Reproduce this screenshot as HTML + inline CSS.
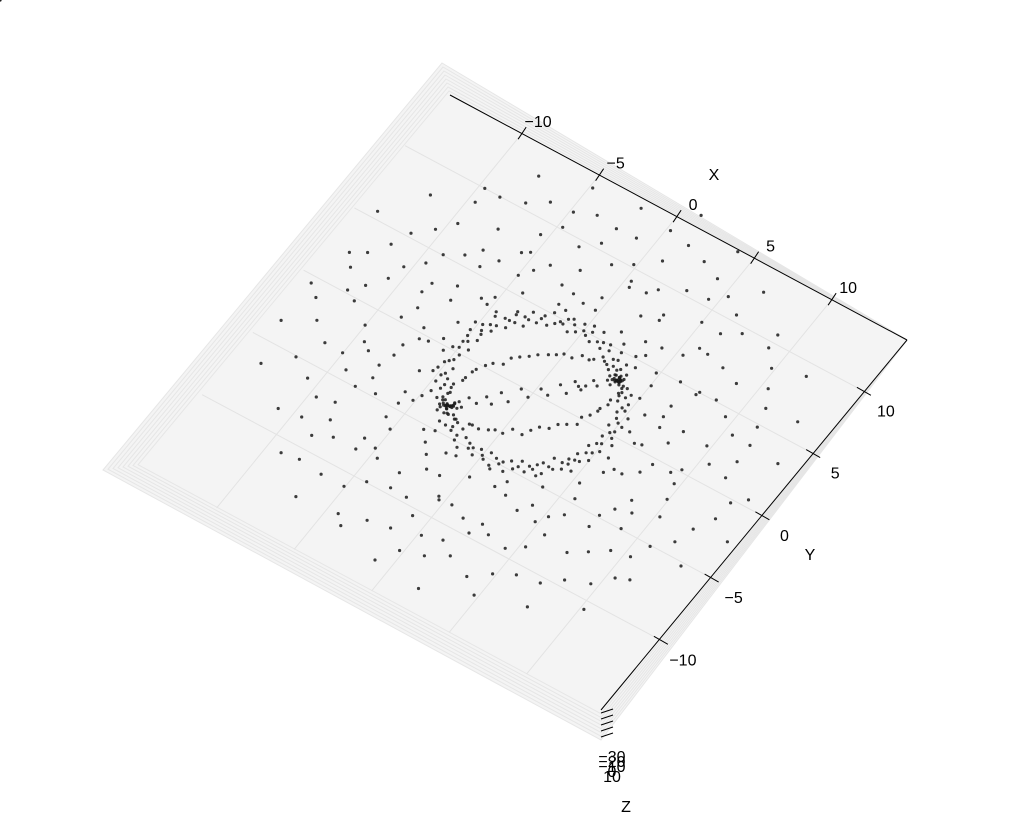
<!DOCTYPE html>
<html><head><meta charset="utf-8">
<style>
html,body{margin:0;padding:0;background:#fff;}
svg{display:block;font-family:"Liberation Sans",sans-serif;}
</style></head>
<body>
<svg id="chart" width="1025" height="826" viewBox="0 0 1025 826">
<g id="panes"></g>
<g id="grid"></g>
<g id="points"></g>
<g id="axes"></g>
</svg>
<script>
// ---- data ----
// inner "sphere" points: parameter angle (deg), meridian squash (x100), radius (x10)
const sphT = [
0,3,5,8,10,12,15,17,19,22,24,27,29,31,34,36,38,41,43,46,48,50,53,55,58,60,62,65,67,70,
72,74,77,79,82,84,86,89,91,94,96,98,101,103,106,108,110,113,115,118,120,122,125,127,130,132,134,137,139,142,
144,146,149,151,154,156,158,161,163,166,168,170,173,175,178,180,182,185,187,190,192,194,197,199,202,204,206,209,211,214,
216,218,221,223,226,228,230,233,235,238,240,242,245,247,250,252,254,257,259,262,264,266,269,271,274,276,278,281,283,286,
288,290,293,295,298,300,302,305,307,310,312,314,317,319,322,324,326,329,331,334,336,338,341,343,346,348,350,353,355,358,
7,25,44,63,88,112,131,152,171,196,217,236,261,280,301,322,345,14,57,99,
4,9,15,21,27,33,39,45,51,57,63,69,75,81,87,93,99,105,111,117,123,129,135,141,147,153,159,165,171,177,
185,191,197,203,209,215,221,227,233,239,245,251,257,263,269,275,281,287,293,299,305,311,317,323,329,335,341,347,353,359,
6,18,31,44,58,71,84,97,110,123,136,149,162,175,188,201,214,227,240,253,266,279,292,305,318,331,344,357,24,203,
2,358,5,355,1,357,3,356,0,4,178,182,176,185,180,179,183,177,181,184,
1,359,2,357,178,181,176,183,6,174];
const sphB = [
100,100,100,100,100,100,100,100,100,100,100,100,100,100,100,100,100,100,100,100,100,100,100,100,100,100,100,100,100,100,
100,100,100,100,100,100,100,100,100,100,100,100,100,100,100,100,100,100,100,100,100,100,100,100,100,100,100,100,100,100,
100,100,100,100,100,100,100,100,100,100,100,100,100,100,100,100,100,100,100,100,100,100,100,100,100,100,100,100,100,100,
100,100,100,100,100,100,100,100,100,100,100,100,100,100,100,100,100,100,100,100,100,100,100,100,100,100,100,100,100,100,
100,100,100,100,100,100,100,100,100,100,100,100,100,100,100,100,100,100,100,100,100,100,100,100,100,100,100,100,100,100,
95,92,96,94,93,97,95,91,96,94,92,95,97,93,94,96,92,95,93,96,
52,50,54,49,53,51,55,48,52,50,54,51,49,53,50,52,55,48,51,53,50,54,49,52,51,53,50,48,54,52,
51,53,49,52,50,54,48,51,53,50,52,49,55,51,50,53,48,52,54,50,51,49,53,52,50,48,54,51,52,50,
6,8,5,7,9,6,4,8,7,5,9,6,8,5,7,6,9,4,8,7,5,6,8,7,5,9,6,7,20,15,
30,40,60,20,50,35,70,25,45,55,30,40,60,20,50,35,70,25,45,55,
10,20,15,25,30,12,18,22,28,35];
const sphR = [
48,52,46,50,54,47,51,49,55,45,50,53,47,51,49,56,46,52,48,50,54,47,51,45,53,49,50,48,55,46,
52,50,47,54,49,51,45,53,48,50,52,46,55,49,51,47,53,50,48,54,46,52,49,51,45,50,53,47,56,48,
50,52,46,54,49,51,47,53,48,50,55,46,52,49,51,47,53,50,48,54,46,52,49,51,45,50,53,47,55,48,
51,49,53,47,50,52,46,54,48,51,49,55,47,52,50,46,53,49,51,48,54,47,50,52,45,53,49,51,48,50,
52,47,54,49,51,46,53,48,50,55,47,52,49,51,46,53,50,48,54,47,51,49,52,46,50,53,48,51,49,47,
58,60,57,61,59,58,62,57,60,59,61,58,57,60,62,59,58,61,57,60,
48,47,49,46,48,50,47,48,49,46,47,48,50,47,49,48,46,47,49,48,50,47,48,46,49,48,47,50,48,47,
48,49,47,48,50,46,48,49,47,48,50,47,49,48,46,47,49,48,50,47,48,49,46,48,47,50,48,49,47,48,
47,46,48,47,45,48,46,47,49,46,48,47,45,48,46,47,48,46,47,49,46,48,47,45,47,48,30,25,
47,46,48,45,49,47,46,48,45,47,46,48,47,45,49,46,48,47,45,49,
44,48,50,46,45,49,47,51,43,46];
// outer scatter points: radius (x10), angle (deg)
const outR = [
68,72,75,80,85,70,78,88,66,74,82,90,69,76,84,71,79,87,73,81,67,77,86,92,70,75,83,89,65,78,
80,72,88,68,76,84,91,74,70,86,79,67,82,90,73,77,85,69,81,93,71,75,87,66,79,83,74,89,72,80,
95,100,105,110,98,103,108,113,96,101,106,111,99,104,109,114,97,102,107,112,95,100,105,110,98,103,108,113,96,101,
106,111,99,104,109,114,97,102,107,112,94,99,104,109,115,101,106,96,111,103,108,98,113,100,105,95,110,102,107,97,
118,122,126,130,120,124,128,132,119,123,127,131,121,125,129,133,117,122,126,134,120,124,128,118,123,127,131,121,125,129,
119,123,127,131,122,126,130,118,124,128,132,120,125,129,121,126,130,117,123,127,133,119,124,128,122,126,131,120,125,129,
136,140,144,148,138,142,146,150,137,141,145,139,143,147,136,140,144,148,138,142,146,137,141,145,139,143,147,135,140,144,
62,64,66,63,65,61,67,64,62,66,63,65,64,62,66,61,63,65,67,64,
85,90,95,88,92,86,94,89,91,87,93,85,96,90,88,92,86,94,89,91];
const outA = [
3,15,27,39,51,63,75,87,99,111,123,135,147,159,171,183,195,207,219,231,243,255,267,279,291,303,315,327,339,351,
9,21,33,45,57,69,81,93,105,117,129,141,153,165,177,189,201,213,225,237,249,261,273,285,297,309,321,333,345,357,
1,13,25,37,49,61,73,85,97,109,121,133,145,157,169,181,193,205,217,229,241,253,265,277,289,301,313,325,337,349,
7,19,31,43,55,67,79,91,103,115,127,139,151,163,175,187,199,211,223,235,247,259,271,283,295,307,319,331,343,355,
5,17,29,41,53,65,77,89,101,113,125,137,149,161,173,185,197,209,221,233,245,257,269,281,293,305,317,329,341,353,
11,23,35,47,59,71,83,95,107,119,131,143,155,167,179,191,203,215,227,239,251,263,275,287,299,311,323,335,347,359,
2,14,26,38,50,62,74,86,98,110,122,134,146,158,170,182,194,206,218,230,242,254,266,278,290,302,314,326,338,350,
20,38,56,74,92,110,128,146,164,182,200,218,236,254,272,290,308,326,344,2,
16,34,52,70,88,106,124,142,160,178,196,214,232,250,268,286,304,322,340,358];
const xTicks = [-10,-5,0,5,10];
const yTicks = [-10,-5,0,5,10];
const zTickLabels = ["\u221230","\u221220","\u221210","0","10"];

// ---- projection (axis functions) ----
const O = [533, 393];
const ex = [15.5, 8.3], ey = [10.15, -12.45];
const xmin=-14.8, xmax=14.8, ymin=-15.9, ymax=14.2;
const majorDeg = 44;
function px(x,y){ return O[0] + x*ex[0] + y*ey[0]; }
function py(x,y){ return O[1] + x*ex[1] + y*ey[1]; }
const NS="http://www.w3.org/2000/svg";
function mk(tag, attrs, parent){ const e=document.createElementNS(NS,tag); for(const k in attrs) e.setAttribute(k,attrs[k]); parent.appendChild(e); return e; }

// panes (stacked walls)
const panes=document.getElementById('panes');
const T=[450,95], R=[907,340], B=[601,710], L=[143,464];
const Tsh=[-8,-32], Lsh=[-40,6], Bsh=[0,30];
for(let k=8;k>=0;k--){
  const f=k/8;
  const t=[T[0]+Tsh[0]*f,T[1]+Tsh[1]*f], l=[L[0]+Lsh[0]*f,L[1]+Lsh[1]*f], b=[B[0]+Bsh[0]*f,B[1]+Bsh[1]*f];
  const p=mk('polygon',{points:`${t} ${R} ${b} ${l}`,fill:'#f4f4f4',stroke:k===0?'#f4f4f4':'#e6e6e6','stroke-width':1},panes);
  
  
}
// grid
const grid=document.getElementById('grid');
xTicks.forEach(v=>{
  const l=mk('line',{x1:px(v,ymin),y1:py(v,ymin),x2:px(v,ymax),y2:py(v,ymax),stroke:'#e3e3e3','stroke-width':1},grid);
  
  
});
yTicks.forEach(v=>{
  const l=mk('line',{x1:px(xmin,v),y1:py(xmin,v),x2:px(xmax,v),y2:py(xmax,v),stroke:'#e3e3e3','stroke-width':1},grid);
  
  
});
// points
const pts=document.getElementById('points');
function dot(x,y){
  const c=mk('circle',{cx:px(x,y).toFixed(1),cy:py(x,y).toFixed(1),r:1.6,fill:'#1a1a1a','fill-opacity':0.85},pts);
  
  
}
const mu=majorDeg*Math.PI/180;
const ux=Math.cos(mu), uy=Math.sin(mu), vx=-Math.sin(mu), vy=Math.cos(mu);
for(let i=0;i<sphT.length;i++){
  const t=sphT[i]*Math.PI/180, r=sphR[i]/10, b=sphB[i]/100;
  const a1=r*Math.cos(t), a2=r*b*Math.sin(t);
  dot(a1*ux+a2*vx, a1*uy+a2*vy);
}
for(let i=0;i<outR.length;i++){
  const a=outA[i]*Math.PI/180, r=outR[i]/10;
  dot(r*Math.cos(a), r*Math.sin(a));
}
// axes
const axes=document.getElementById('axes');
const xl=mk('line',{x1:T[0],y1:T[1],x2:R[0],y2:R[1],stroke:'#000','stroke-width':1},axes);


const yl=mk('line',{x1:R[0],y1:R[1],x2:B[0],y2:B[1],stroke:'#000','stroke-width':1},axes);


xTicks.forEach(v=>{
  const x0=px(v,ymax), y0=py(v,ymax);
  const t=mk('line',{x1:x0-4,y1:y0+6,x2:x0+4,y2:y0-6,stroke:'#000','stroke-width':1},axes);
  
  
  const s=mk('text',{x:x0+16,y:y0-6,'font-size':16,'text-anchor':'middle',fill:'#000'},axes);
  s.textContent=(v<0?'\u2212'+(-v):String(v));
  
  
});
yTicks.forEach(v=>{
  const x0=px(xmax,v), y0=py(xmax,v);
  const t=mk('line',{x1:x0-7,y1:y0-4,x2:x0+7,y2:y0+4,stroke:'#000','stroke-width':1},axes);
  
  
  const s=mk('text',{x:x0+22,y:y0+25,'font-size':16,'text-anchor':'middle',fill:'#000'},axes);
  s.textContent=(v<0?'\u2212'+(-v):String(v));
  
  
});
zTickLabels.forEach((lab,i)=>{
  const t=mk('line',{x1:601,y1:713+i*6,x2:613,y2:709+i*6,stroke:'#000','stroke-width':1},axes);
  
  
  const s=mk('text',{x:612,y:762+i*5,'font-size':16,'text-anchor':'middle',fill:'#000'},axes);
  s.textContent=lab;
  
  
});
const labels=[['X',714,180,'x-axis-title'],['Y',810,560,'y-axis-title'],['Z',626,812,'z-axis-title']];
labels.forEach(([t,x,y,n])=>{
  const s=mk('text',{x:x,y:y,'font-size':16,'text-anchor':'middle',fill:'#000'},axes);
  s.textContent=t;
  
  
});
</script>
</body></html>
